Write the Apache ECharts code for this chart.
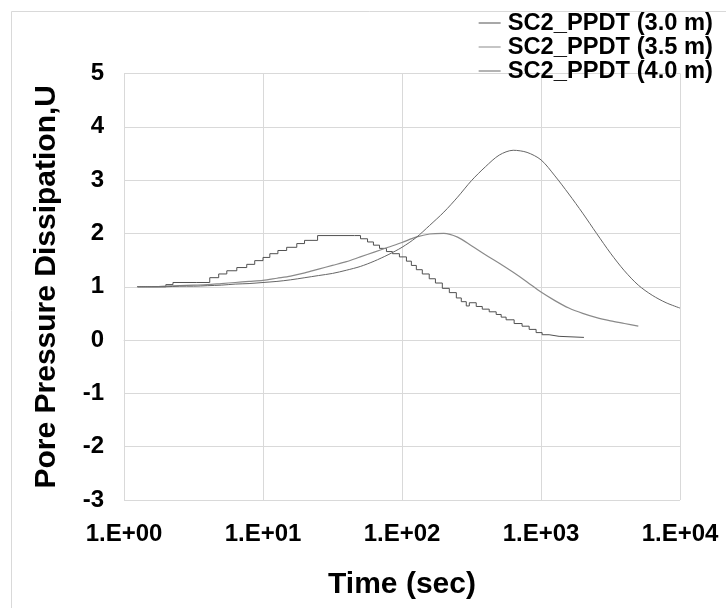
<!DOCTYPE html>
<html>
<head>
<meta charset="utf-8">
<script src="https://cdn.jsdelivr.net/npm/echarts@6/dist/echarts.min.js"></script>
<style>
html,body{margin:0;padding:0;background:#fff;}
#chart{width:726px;height:608px;}
</style>
</head>
<body>
<div id="chart"></div>
<script>
// Series names
const seriesNames = ['SC2_PPDT (3.0 m)', 'SC2_PPDT (3.5 m)', 'SC2_PPDT (4.0 m)'];

// 3.0 m (stepped record)
const t30 = [1.24,1.54,2.0,2.25,3.34,4.14,4.8,5.49,6.48,7.64,8.72,10.0,11.2,12.8,14.8,17.5,19.9,24.7,45.5,50.3,56.5,62.3,68.9,77.3,85.3,95.8,107.6,116.8,126.8,140,157,174,195,219,246,267,290,305,342,378,424,476,517,561,641,731,822,922,1019,1143,1349,2037];
const v30 = [1.0,1.0,1.04,1.08,1.08,1.17,1.24,1.30,1.36,1.42,1.49,1.55,1.62,1.68,1.74,1.81,1.87,1.96,1.96,1.90,1.84,1.78,1.72,1.66,1.62,1.56,1.48,1.40,1.32,1.24,1.15,1.07,0.97,0.89,0.79,0.72,0.64,0.70,0.63,0.58,0.53,0.48,0.43,0.38,0.31,0.26,0.20,0.14,0.10,0.07,0.05,0.05];

// 3.5 m
const t35 = [1.26,1.58,2.0,2.51,3.16,3.98,5.01,6.31,7.94,10,12.6,15.8,20,25.1,31.6,39.8,50.1,63.1,79.4,100,126,158,200,251,316,398,501,631,794,1000,1259,1585,1995,2512,3162,3981,5012];
const v35 = [1.00,1.00,1.01,1.02,1.03,1.04,1.06,1.08,1.10,1.12,1.16,1.20,1.26,1.33,1.40,1.47,1.56,1.65,1.74,1.83,1.93,1.99,2.00,1.93,1.77,1.60,1.44,1.27,1.09,0.90,0.74,0.60,0.50,0.42,0.36,0.31,0.26];

// 4.0 m
const t40 = [1.26,1.58,2.0,2.51,3.16,3.98,5.01,6.31,7.94,10,12.6,15.8,20,25.1,31.6,39.8,50.1,63.1,79.4,100,126,158,200,251,316,398,501,631,794,1000,1259,1585,1995,2512,3162,3981,5012,6310,7943,10000];
const v40 = [1.00,1.00,1.00,1.01,1.01,1.02,1.03,1.05,1.06,1.08,1.10,1.13,1.17,1.21,1.25,1.31,1.38,1.48,1.60,1.74,1.92,2.15,2.40,2.68,2.99,3.25,3.47,3.56,3.52,3.38,3.08,2.74,2.38,2.00,1.63,1.30,1.03,0.84,0.70,0.60];

// Axis ticks
const xTicks = [1, 10, 100, 1000, 10000];
const yTicks = [-3, -2, -1, 0, 1, 2, 3, 4, 5];

const axisTitleX = 'Time (sec)';
const axisTitleY = 'Pore Pressure Dissipation,U';

function pairs(t, v) { return t.map((x, i) => [x, v[i]]); }

const FONT = "'Liberation Sans', Arial, sans-serif";
const chart = echarts.init(document.getElementById('chart'), null, {renderer: 'canvas'});

chart.setOption({
  animation: false,
  backgroundColor: '#ffffff',
  graphic: [{
    type: 'rect', z: -10, silent: true,
    shape: {x: 11.5, y: 11.5, width: 900, height: 900},
    style: {fill: 'none', stroke: '#d9d9d9', lineWidth: 1}
  }],
  grid: {left: 124, right: 46, top: 73.5, bottom: 108, containLabel: false},
  legend: {
    orient: 'vertical', right: 13, top: 11, padding: 0,
    icon: 'rect', itemWidth: 22, itemHeight: 1, itemGap: 0,
    textStyle: {fontFamily: FONT, fontWeight: 'bold', fontSize: 23.7, color: '#000', lineHeight: 21.7, padding: [0,0,0,2]},
    data: seriesNames
  },
  xAxis: {
    type: 'log', logBase: 10, min: xTicks[0], max: xTicks[xTicks.length - 1],
    name: axisTitleX, nameLocation: 'middle', nameGap: 70,
    nameTextStyle: {fontFamily: FONT, fontWeight: 'bold', fontSize: 30, color: '#000'},
    axisLine: {show: true, lineStyle: {color: '#d9d9d9', width: 1}},
    axisTick: {show: false},
    splitLine: {show: true, lineStyle: {color: '#d9d9d9', width: 1}},
    minorSplitLine: {show: false},
    axisLabel: {
      margin: 22, fontFamily: FONT, fontWeight: 'bold', fontSize: 24, color: '#000',
      formatter: function (v) {
        const e = Math.round(Math.log10(v));
        return '1.E+' + (e < 10 ? '0' : '') + e;
      }
    }
  },
  yAxis: {
    type: 'value', min: yTicks[0], max: yTicks[yTicks.length - 1], interval: 1,
    name: axisTitleY, nameLocation: 'middle', nameGap: 62, nameRotate: 90,
    nameTextStyle: {fontFamily: FONT, fontWeight: 'bold', fontSize: 30, color: '#000'},
    axisLine: {show: true, lineStyle: {color: '#d9d9d9', width: 1}},
    axisTick: {show: false},
    splitLine: {show: true, lineStyle: {color: '#d9d9d9', width: 1}},
    axisLabel: {margin: 20, fontFamily: FONT, fontWeight: 'bold', fontSize: 24, color: '#000'}
  },
  series: [
    {
      name: seriesNames[0], type: 'line', data: pairs(t30, v30), step: 'end',
      symbol: 'none', lineStyle: {color: '#505050', width: 1}, itemStyle: {color: '#505050'}
    },
    {
      name: seriesNames[1], type: 'line', data: pairs(t35, v35), smooth: 0.3,
      symbol: 'none', lineStyle: {color: '#8a8a8a', width: 1.2}, itemStyle: {color: '#8a8a8a'}
    },
    {
      name: seriesNames[2], type: 'line', data: pairs(t40, v40), smooth: 0.3,
      symbol: 'none', lineStyle: {color: '#666666', width: 1}, itemStyle: {color: '#666666'}
    }
  ]
});
</script>
</body>
</html>
